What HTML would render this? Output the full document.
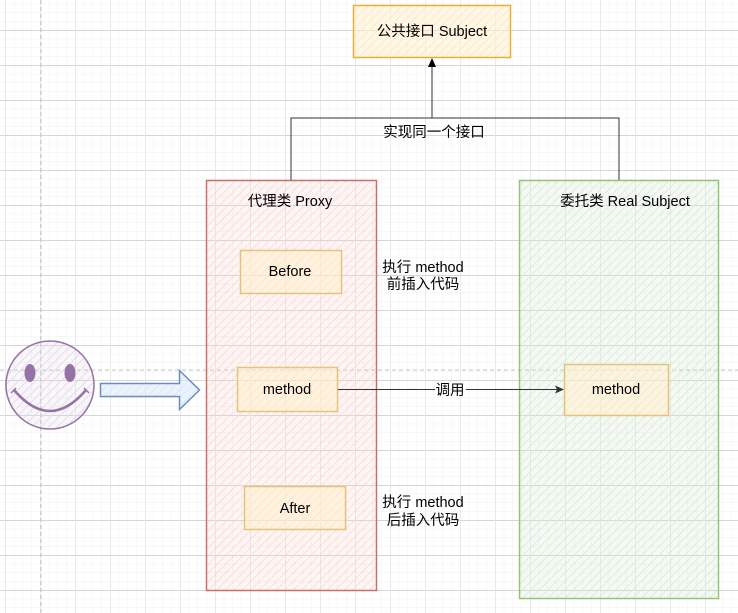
<!DOCTYPE html>
<html><head><meta charset="utf-8"><style>
html,body{margin:0;padding:0;background:#fff}
svg{display:block}
text{font-family:"Liberation Sans","Noto Sans CJK SC",sans-serif;font-size:14.5px;fill:#000}
</style></head><body>
<svg width="738" height="613" viewBox="0 0 738 613" xmlns="http://www.w3.org/2000/svg">
<defs>
<pattern id="minor" x="5" y="30" width="8.75" height="8.75" patternUnits="userSpaceOnUse">
<path d="M0 0H8.75M0 0V8.75" stroke="#f0f0f0" stroke-width="1" fill="none"/>
</pattern>
<pattern id="major" x="5" y="30" width="35" height="35" patternUnits="userSpaceOnUse">
<path d="M0.5 0H35M0.5 0V35" stroke="#d6d6d6" stroke-width="1" fill="none" transform="translate(-0.5,0.5)"/>
</pattern>
<pattern id="hr" width="6" height="6" patternUnits="userSpaceOnUse" patternTransform="rotate(45)"><rect width="6" height="6" fill="#f8cecc" fill-opacity="0.2"/><line x1="0" y1="0" x2="0" y2="6" stroke="#f8cecc" stroke-width="2" stroke-opacity="0.6"/></pattern>
<pattern id="hg" width="6" height="6" patternUnits="userSpaceOnUse" patternTransform="rotate(45)"><rect width="6" height="6" fill="#d5e8d4" fill-opacity="0.25"/><line x1="0" y1="0" x2="0" y2="6" stroke="#d5e8d4" stroke-width="2" stroke-opacity="0.7"/></pattern>
<pattern id="hy" width="6" height="6" patternUnits="userSpaceOnUse" patternTransform="rotate(45)"><rect width="6" height="6" fill="#fff2cc" fill-opacity="0.5"/><line x1="0" y1="0" x2="0" y2="6" stroke="#ffe6cc" stroke-width="2"/></pattern>
<pattern id="hp" width="6" height="6" patternUnits="userSpaceOnUse" patternTransform="rotate(45)"><rect width="6" height="6" fill="#e1d5e7" fill-opacity="0.2"/><line x1="0" y1="0" x2="0" y2="6" stroke="#e1d5e7" stroke-width="2" stroke-opacity="0.8"/></pattern>
<pattern id="hb" width="6" height="6" patternUnits="userSpaceOnUse" patternTransform="rotate(45)"><rect width="6" height="6" fill="#dae8fc" fill-opacity="0.5"/><line x1="0" y1="0" x2="0" y2="6" stroke="#dae8fc" stroke-width="2"/></pattern>
</defs>
<rect width="738" height="613" fill="url(#minor)"/>
<rect width="738" height="613" fill="url(#major)"/>
<line x1="41" y1="0" x2="41" y2="613" stroke="#c8c8c8" stroke-dasharray="4 3"/>
<line x1="0" y1="370" x2="738" y2="370" stroke="#c0c0c0" stroke-dasharray="4 3"/>

<!-- Subject -->
<rect x="353.5" y="5.5" width="157" height="52" fill="url(#hy)" stroke="#e3b23c" stroke-width="1.5"/>
<text x="432" y="36" text-anchor="middle" font-size="16">公共接口 Subject</text>
<path d="M291 180V118H619V180M432 118V66" stroke="#333" fill="none"/>
<path d="M432 58L428 67L436 67Z" fill="#000"/>
<text x="434" y="137" text-anchor="middle">实现同一个接口</text>

<!-- Proxy -->
<rect x="206.5" y="180.5" width="170" height="410" fill="url(#hr)" stroke="#c9706b" stroke-width="1.5"/>
<text x="290" y="206" text-anchor="middle">代理类 Proxy</text>
<rect x="240.5" y="250.5" width="101" height="43" fill="url(#hy)" stroke="#e3c47a" stroke-width="1.5"/>
<text x="290" y="276" text-anchor="middle">Before</text>
<rect x="237.5" y="367.5" width="100" height="44" fill="url(#hy)" stroke="#e3c47a" stroke-width="1.5"/>
<text x="287" y="394" text-anchor="middle">method</text>
<rect x="244.5" y="486.5" width="101" height="43" fill="url(#hy)" stroke="#e3c47a" stroke-width="1.5"/>
<text x="295" y="513" text-anchor="middle">After</text>

<text x="423" y="272" text-anchor="middle">执行 method</text>
<text x="423" y="289" text-anchor="middle">前插入代码</text>
<text x="423" y="507" text-anchor="middle">执行 method</text>
<text x="423" y="525" text-anchor="middle">后插入代码</text>

<!-- Real -->
<rect x="519.5" y="180.5" width="199" height="418" fill="url(#hg)" stroke="#97c27a" stroke-width="1.5"/>
<text x="625" y="206" text-anchor="middle">委托类 Real Subject</text>
<rect x="564.5" y="364.5" width="104" height="51" fill="url(#hy)" stroke="#e3c47a" stroke-width="1.5"/>
<text x="616" y="394" text-anchor="middle">method</text>

<line x1="338" y1="389.5" x2="558" y2="389.5" stroke="#333"/>
<path d="M564 389.5L555 385.5L557 389.5L555 393.5Z" fill="#333"/>
<rect x="435" y="382" width="31" height="15" fill="#fff" fill-opacity="0.85"/>
<text x="450" y="395" text-anchor="middle">调用</text>

<!-- smiley -->
<circle cx="50" cy="385" r="44" fill="url(#hp)" stroke="#9673a6" stroke-width="1.5"/>
<ellipse cx="30" cy="373" rx="5.5" ry="9" fill="#9673a6"/>
<ellipse cx="70" cy="373" rx="5.5" ry="9" fill="#9673a6"/>
<path d="M14 390Q50 432 86 390" stroke="#9673a6" stroke-width="2.5" fill="none"/>
<path d="M11 393L16 388M84 388L89 393" stroke="#9673a6" stroke-width="1.5"/>

<!-- arrow -->
<path d="M100.5 383.5H179.5V370.5L199.5 390L179.5 409.5V396.5H100.5Z" fill="url(#hb)" stroke="#6c8ebf" stroke-width="1.5"/>
</svg>
</body></html>
